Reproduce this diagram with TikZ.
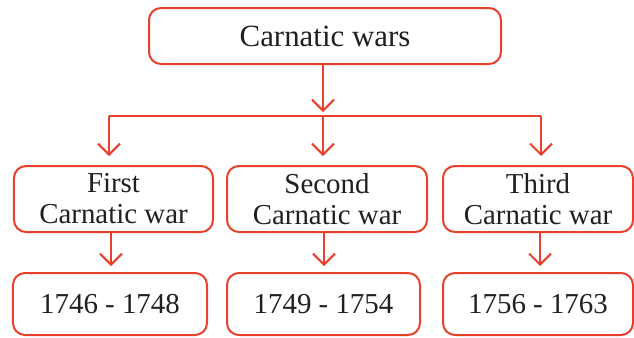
\documentclass[tikz,border=0pt]{standalone}
\usepackage{fontspec}
\setmainfont{Liberation Serif}
\usetikzlibrary{arrows.meta,calc}
\definecolor{boxred}{HTML}{E8402A}
\definecolor{ink}{HTML}{231F20}
\tikzset{
  box/.style={draw=boxred, line width=2bp, rounded corners=12bp, text=ink,
    inner sep=0pt, align=center, font=\fontsize{29}{31}\selectfont},
  link/.style={draw=boxred, line width=2bp},
  arr/.style={link, -{Straight Barb[length=11bp,width=22bp,line width=2bp]}},
}
\begin{document}
\begin{tikzpicture}[x=1bp,y=-1bp]
\useasboundingbox (0,0) rectangle (634,337);
\clip (0,0) rectangle (634,337);
\fill[white] (0,0) rectangle (634,337);

% title box
\node[box, minimum width=352bp, minimum height=56bp,
      font=\fontsize{31}{33}\selectfont] (top) at (325,36) {Carnatic wars};

% the three wars
\node[box, minimum width=199bp, minimum height=66bp] (m1) at (113.5,199) {First\\Carnatic war};
\node[box, minimum width=200bp, minimum height=66bp] (m2) at (327,199) {Second\\Carnatic war};
\node[box, minimum width=190bp, minimum height=66bp] (m3) at (538,199) {Third\\Carnatic war};

% their periods
\node[box, minimum width=194bp, minimum height=62bp] (b1) at (110,304) {1746 - 1748};
\node[box, minimum width=193bp, minimum height=62bp] (b2) at (323.5,304) {1749 - 1754};
\node[box, minimum width=190bp, minimum height=62bp] (b3) at (538,304) {1756 - 1763};

% branching connectors
\coordinate (split) at (323,116);
\coordinate (hl) at (109,116);
\coordinate (hr) at (541,116);
\draw[arr, shorten >=4bp] (top.south -| split) -- (split);
\draw[link] (hl) -- (hr);
\draw[arr, shorten >=9bp] (hl) -- (hl |- m1.north);
\draw[arr, shorten >=9bp] (split) -- (split |- m2.north);
\draw[arr, shorten >=9bp] (hr) -- (hr |- m3.north);

% war to period
\coordinate (c1) at (111,0);
\coordinate (c2) at (324,0);
\coordinate (c3) at (540,0);
\draw[arr, shorten >=6bp] (m1.south -| c1) -- (b1.north -| c1);
\draw[arr, shorten >=6bp] (m2.south -| c2) -- (b2.north -| c2);
\draw[arr, shorten >=6bp] (m3.south -| c3) -- (b3.north -| c3);
\end{tikzpicture}
\end{document}
